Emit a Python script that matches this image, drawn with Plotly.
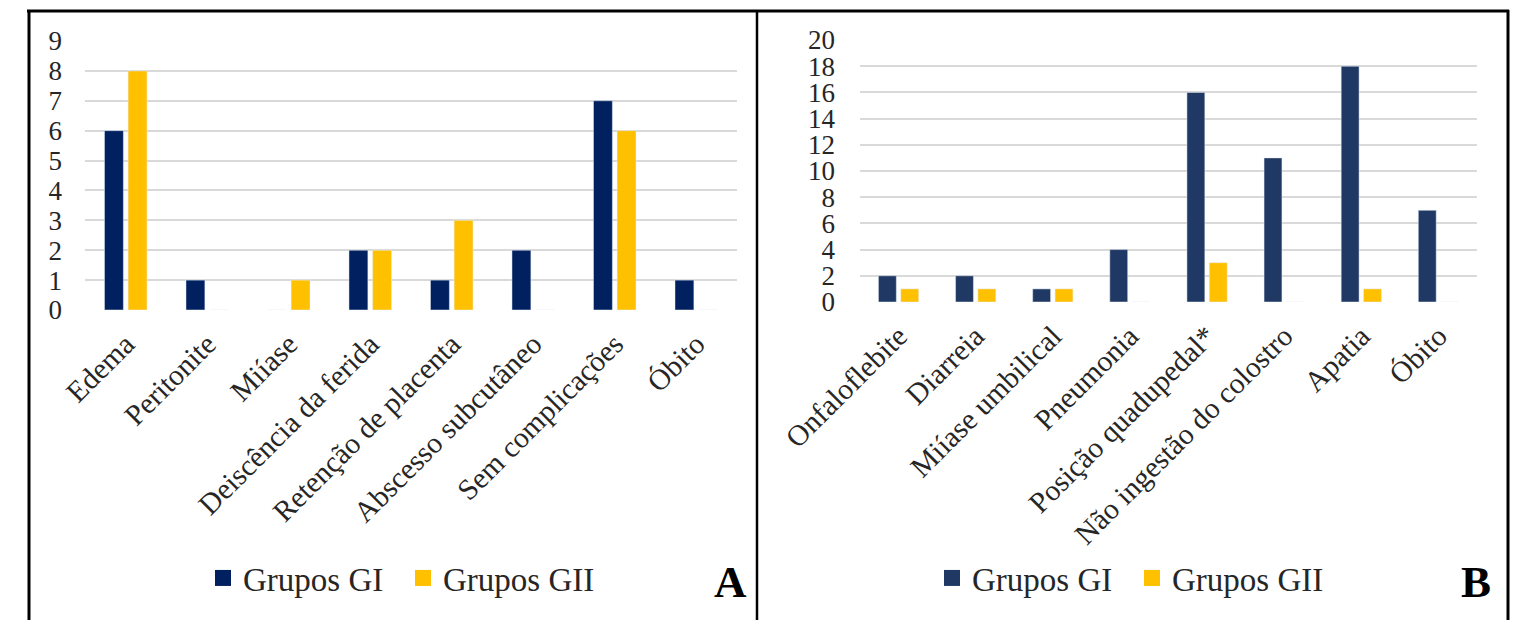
import plotly.graph_objects as go

W, H = 1517, 620

# Panel A: complicações maternas
cat_a = ["Edema", "Peritonite", "Miíase", "Deiscência da ferida", "Retenção de placenta",
         "Abscesso subcutâneo", "Sem complicações", "Óbito"]
gi_a = [6, 1, 0, 2, 1, 2, 7, 1]
gii_a = [8, 0, 1, 2, 3, 0, 6, 0]
ticks_a = [0, 1, 2, 3, 4, 5, 6, 7, 8, 9]

# Panel B: complicações neonatais
cat_b = ["Onfaloflebite", "Diarreia", "Miíase umbilical", "Pneumonia", "Posição quadupedal*",
         "Não ingestão do colostro", "Apatia", "Óbito"]
gi_b = [2, 2, 1, 4, 16, 11, 18, 7]
gii_b = [1, 1, 1, 0, 3, 0, 1, 0]
ticks_b = [0, 2, 4, 6, 8, 10, 12, 14, 16, 18, 20]

series_names = ["Grupos GI", "Grupos GII"]

FONT = "Liberation Serif, Times New Roman, serif"
TXT = "#262626"
GRID = "#d9d9d9"
NAVY_A, NAVY_B, GOLD = "#002060", "#203864", "#FFC000"

def px(x):
    return x / W

def py(y):
    return 1 - y / H

fig = go.Figure()
fig.add_trace(go.Bar(x=cat_a, y=gi_a, name=series_names[0], marker_color=NAVY_A,
                     xaxis="x", yaxis="y", showlegend=False, offsetgroup="a1"))
fig.add_trace(go.Bar(x=cat_a, y=gii_a, name=series_names[1], marker_color=GOLD,
                     xaxis="x", yaxis="y", showlegend=False, offsetgroup="a2"))
fig.add_trace(go.Bar(x=cat_b, y=gi_b, name=series_names[0], marker_color=NAVY_B,
                     xaxis="x2", yaxis="y2", showlegend=False, offsetgroup="b1"))
fig.add_trace(go.Bar(x=cat_b, y=gii_b, name=series_names[1], marker_color=GOLD,
                     xaxis="x2", yaxis="y2", showlegend=False, offsetgroup="b2"))

# legend keys with larger square swatches
for leg, colors, xa, ya in [("legend", [NAVY_A, GOLD], "x", "y"),
                            ("legend2", [NAVY_B, GOLD], "x2", "y2")]:
    for nm, col in zip(series_names, colors):
        fig.add_trace(go.Scatter(x=[None], y=[None], mode="markers", name=nm,
                                 marker=dict(symbol="square", size=16, color=col),
                                 xaxis=xa, yaxis=ya, legend=leg, hoverinfo="skip"))

xcommon = dict(type="category", tickangle=-45, showgrid=False, showline=False,
               zeroline=False, ticks="", automargin=False, ticklabelstandoff=10,
               tickfont=dict(family=FONT, size=29.5, color=TXT))
ycommon = dict(showgrid=True, gridcolor=GRID, gridwidth=1.5, zeroline=False, showline=False,
               ticks="", automargin=False, tickfont=dict(family=FONT, size=27, color=TXT))

legcommon = dict(orientation="h", xanchor="center", yanchor="middle", y=py(578),
                 font=dict(family=FONT, size=33, color=TXT), bgcolor="rgba(0,0,0,0)",
                 itemclick=False, itemdoubleclick=False, tracegroupgap=0, itemwidth=30,
                 entrywidth=155)

fig.update_layout(
    width=W, height=H, margin=dict(l=0, r=0, t=0, b=0, autoexpand=False),
    paper_bgcolor="white", plot_bgcolor="white",
    barmode="group", bargap=0.42, bargroupgap=0.2,
    xaxis=dict(domain=[px(85), px(737)], anchor="y", **xcommon),
    yaxis=dict(domain=[py(310), py(41)], range=[0, 9], tickvals=ticks_a,
               anchor="x", ticklabelstandoff=22, **ycommon),
    xaxis2=dict(domain=[px(860), px(1477)], anchor="y2", **xcommon),
    yaxis2=dict(domain=[py(302), py(40)], range=[0, 20], tickvals=ticks_b,
                anchor="x2", ticklabelstandoff=24, **ycommon),
    legend=dict(x=px(403), **legcommon),
    legend2=dict(x=px(1132), **legcommon),
    annotations=[
        dict(text="<b>A</b>", x=px(730), y=py(582), xref="paper", yref="paper",
             showarrow=False, xanchor="center", yanchor="middle",
             font=dict(family=FONT, size=45, color="black")),
        dict(text="<b>B</b>", x=px(1476), y=py(582), xref="paper", yref="paper",
             showarrow=False, xanchor="center", yanchor="middle",
             font=dict(family=FONT, size=45, color="black")),
    ],
    shapes=[
        dict(type="line", xref="paper", yref="paper", x0=px(27), x1=px(1509), y0=py(11), y1=py(11),
             line=dict(color="black", width=3)),
        dict(type="line", xref="paper", yref="paper", x0=px(29), x1=px(29), y0=py(10), y1=py(622),
             line=dict(color="black", width=3)),
        dict(type="line", xref="paper", yref="paper", x0=px(757), x1=px(757), y0=py(10), y1=py(622),
             line=dict(color="black", width=2.5)),
        dict(type="line", xref="paper", yref="paper", x0=px(1508), x1=px(1508), y0=py(10), y1=py(622),
             line=dict(color="black", width=3)),
    ],
)

fig.write_html("out.html")
